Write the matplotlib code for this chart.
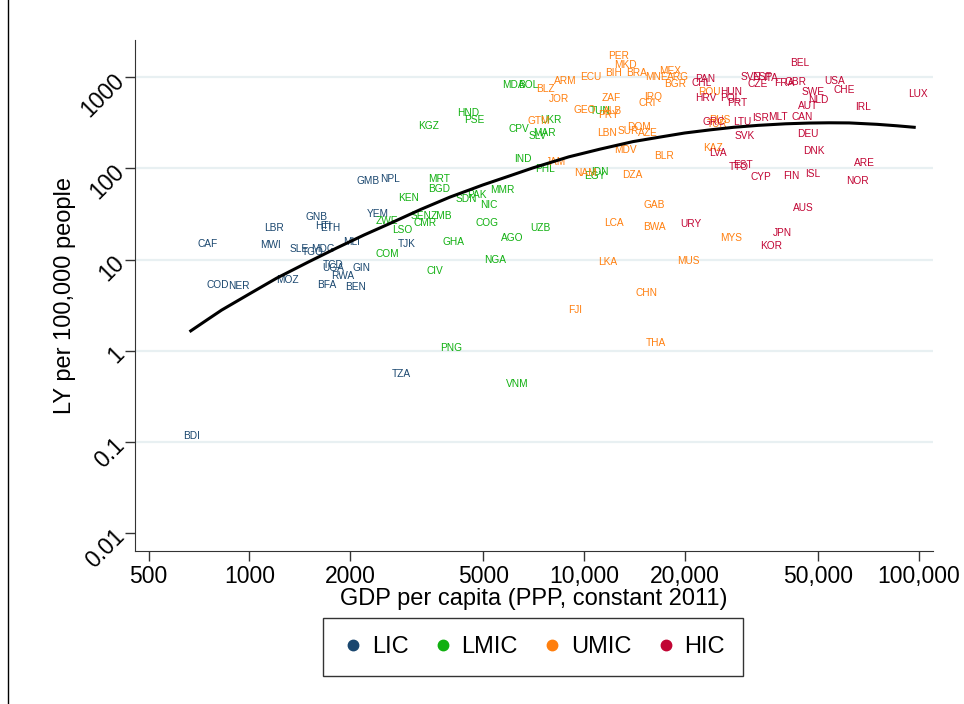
import matplotlib.pyplot as plt
from matplotlib.lines import Line2D

plt.rcParams['font.family'] = ['Liberation Sans', 'DejaVu Sans']

# income groups
groups = ['LIC', 'LMIC', 'UMIC', 'HIC']
colors = ['#1a476f', '#10b010', '#ff7f0e', '#c10534']

lic_codes = ['GMB', 'NPL', 'YEM', 'GNB', 'HTI', 'ETH', 'LBR', 'CAF', 'MWI', 'SLE', 'TGO', 'MDG', 'MLI',
             'TJK', 'TCD', 'UGA', 'GIN', 'RWA', 'MOZ', 'BFA', 'BEN', 'COD', 'NER', 'TZA', 'BDI']
lic_gdp = [2255, 2630, 2420, 1589, 1663, 1741, 1184, 748, 1157, 1406, 1542, 1663, 2023,
           2951, 1774, 1782, 2163, 1901, 1297, 1702, 2080, 804, 929, 2844, 670]
lic_ly = [72.6, 76.3, 31.5, 29.0, 23.4, 22.3, 22.3, 14.8, 14.4, 12.9, 12.2, 12.9, 15.4,
          14.8, 8.61, 8.11, 8.11, 6.68, 5.94, 5.20, 5.01, 5.20, 5.11, 0.556, 0.115]

lmic_codes = ['MRT', 'BGD', 'KEN', 'ZWE', 'SEN', 'ZMB', 'CMR', 'LSO', 'GHA', 'COM', 'CIV', 'PNG', 'VNM',
              'KGZ', 'HND', 'PSE', 'MDA', 'BOL', 'CPV', 'UKR', 'MAR', 'SLV', 'IND', 'PHL', 'IDN', 'EGY',
              'TUN', 'PAK', 'SDN', 'MMR', 'NIC', 'COG', 'UZB', 'AGO', 'NGA']
lmic_gdp = [3690, 3681, 2985, 2582, 3250, 3757, 3350, 2864, 4083, 2582, 3572, 3996, 6310,
            3427, 4510, 4690, 6150, 6820, 6400, 7960, 7590, 7250, 6560, 7640, 11170, 10740,
            11170, 4780, 4460, 5680, 5200, 5140, 7430, 6110, 5410]
lmic_ly = [76.3, 58.8, 46.9, 26.4, 30.2, 30.2, 24.9, 21.0, 15.6, 11.6, 7.40, 1.08, 0.429,
           294, 405, 336, 815, 821, 272, 341, 242, 228, 127, 99, 91.8, 83.0,
           422, 50.9, 45.7, 57.8, 39.3, 24.9, 22.3, 17.1, 10.0]

umic_codes = ['BLZ', 'ARM', 'ECU', 'JOR', 'GTM', 'JAM', 'NAM', 'DZA', 'GEO', 'ALB', 'PRY', 'ZAF', 'IRQ',
              'CRI', 'LBN', 'SUR', 'DOM', 'AZE', 'MDV', 'BLR', 'PER', 'MKD', 'BIH', 'BRA', 'MEX', 'MNE',
              'ARG', 'BGR', 'ROU', 'RUS', 'TUR', 'KAZ', 'MYS', 'BWA', 'LCA', 'GAB', 'LKA', 'MUS', 'CHN',
              'FJI', 'THA']
umic_gdp = [7690, 8810, 10500, 8430, 7300, 8240, 10070, 13900, 10070, 12130, 11830, 12100, 16110,
            15450, 11740, 13560, 14620, 15560, 13270, 17340, 12670, 13330, 12240, 14390, 18070, 16480,
            19100, 18710, 23710, 25520, 24940, 24270, 27480, 16260, 12300, 16220, 11780, 20560, 15380,
            9400, 16410]
umic_ly = [748, 908, 1005, 581, 330, 117, 89.9, 85.1, 433, 429, 382, 586, 601,
           517, 244, 259, 282, 246, 159, 137, 1709, 1352, 1120, 1120, 1170, 1000,
           1013, 842, 693, 339, 304, 166, 17.2, 22.9, 25.3, 39.6, 9.44, 9.53, 4.25,
           2.81, 1.23]

hic_codes = ['PAN', 'CHL', 'HUN', 'HRV', 'POL', 'PRT', 'GRC', 'LTU', 'SVK', 'LVA', 'ISR', 'MLT', 'CAN',
             'SVN', 'ESP', 'ITA', 'CZE', 'FRA', 'GBR', 'BEL', 'USA', 'SWE', 'CHE', 'NLD', 'AUT', 'IRL',
             'LUX', 'DEU', 'DNK', 'ARE', 'EST', 'TTO', 'CYP', 'FIN', 'ISL', 'NOR', 'AUS', 'JPN', 'KOR',
             'URY']
hic_gdp = [23010, 22390, 27480, 23120, 27340, 28710, 24380, 29720, 30270, 25060, 33730, 37930, 44870,
           31550, 34040, 36220, 33110, 39630, 42760, 44060, 56100, 48420, 59840, 50230, 46560, 68230,
           99540, 46560, 48750, 68710, 29920, 28910, 33730, 41590, 48190, 65770, 45290, 39170, 36220,
           20840]
hic_ly = [968, 875, 693, 586, 591, 521, 325, 325, 228, 148, 355, 371, 371,
          1005, 1005, 993, 853, 863, 886, 1439, 912, 688, 718, 569, 488, 468,
          664, 241, 155, 114, 109, 103, 80.9, 82.3, 87.3, 73.1, 37.0, 19.4, 14.1,
          24.3]

# fitted line
fit_gdp = [668, 750, 826, 1000, 1206, 1500, 1823, 2200, 2630, 3250, 3975, 4990, 6000, 7040, 9000,
           11170, 14000, 16870, 20000, 24000, 28000, 33100, 40000, 47100, 54000, 62000, 75100, 86000, 97000]
fit_ly = [1.65, 2.2, 2.79, 4.2, 6.25, 9.4, 13.4, 18.6, 24.9, 35.5, 48.5, 66, 83, 101.5, 134,
          163, 197, 221, 245, 266, 283, 297, 309, 315, 317, 316, 305, 294, 283]

x_ticks = [500, 1000, 2000, 5000, 10000, 20000, 50000, 100000]
x_ticklabels = ['500', '1000', '2000', '5000', '10,000', '20,000', '50,000', '100,000']
y_ticks = [0.01, 0.1, 1, 10, 100, 1000]
y_ticklabels = ['0.01', '0.1', '1', '10', '100', '1000']

fig = plt.figure(figsize=(9.64, 7.04), dpi=100)
ax = fig.add_axes([0.140, 0.217, 0.828, 0.726])

ax.set_xscale('log')
ax.set_yscale('log')
ax.set_xlim(455, 110500)
ax.set_ylim(0.0063, 2560)

for yv in y_ticks[1:]:
    ax.axhline(yv, color='#e8f0f2', lw=1.6, zorder=0)

all_data = [(lic_codes, lic_gdp, lic_ly), (lmic_codes, lmic_gdp, lmic_ly),
            (umic_codes, umic_gdp, umic_ly), (hic_codes, hic_gdp, hic_ly)]
for (codes, gdp, ly), col in zip(all_data, colors):
    for c, gx, gy in zip(codes, gdp, ly):
        ax.text(gx, gy, c, color=col, fontsize=7.3, ha='center', va='center', zorder=2)

ax.plot(fit_gdp, fit_ly, color='black', lw=2.2, zorder=3)

ax.set_xticks(x_ticks)
ax.set_xticklabels(x_ticklabels, fontsize=16.5)
ax.set_yticks(y_ticks)
ax.set_yticklabels(y_ticklabels, fontsize=16.5, rotation=45, ha='right', va='center',
                   rotation_mode='anchor')
ax.minorticks_off()
ax.tick_params(axis='both', length=7, width=1, color='#333333', pad=3)

for side in ['top', 'right']:
    ax.spines[side].set_visible(False)
for side in ['left', 'bottom']:
    ax.spines[side].set_color('#333333')

ax.set_xlabel('GDP per capita (PPP, constant 2011)', fontsize=17)
ax.xaxis.set_label_coords(0.5, -0.072)
ax.set_ylabel('LY per 100,000 people', fontsize=17)
ax.yaxis.set_label_coords(-0.074, 0.5)

handles = [Line2D([], [], marker='o', ls='', color=c, markersize=7.5) for c in colors]
leg = fig.legend(handles, groups, loc='center', bbox_to_anchor=(0.553, 0.081), ncol=4,
                 fontsize=17, frameon=True, fancybox=False, edgecolor='black',
                 handletextpad=0.3, columnspacing=0.95, borderpad=0.75, handlelength=1.0)
leg.get_frame().set_linewidth(1.0)

fig.add_artist(Line2D([0.0085, 0.0085], [0, 1], color='black', lw=1))

fig.savefig('out.png', dpi=100)
